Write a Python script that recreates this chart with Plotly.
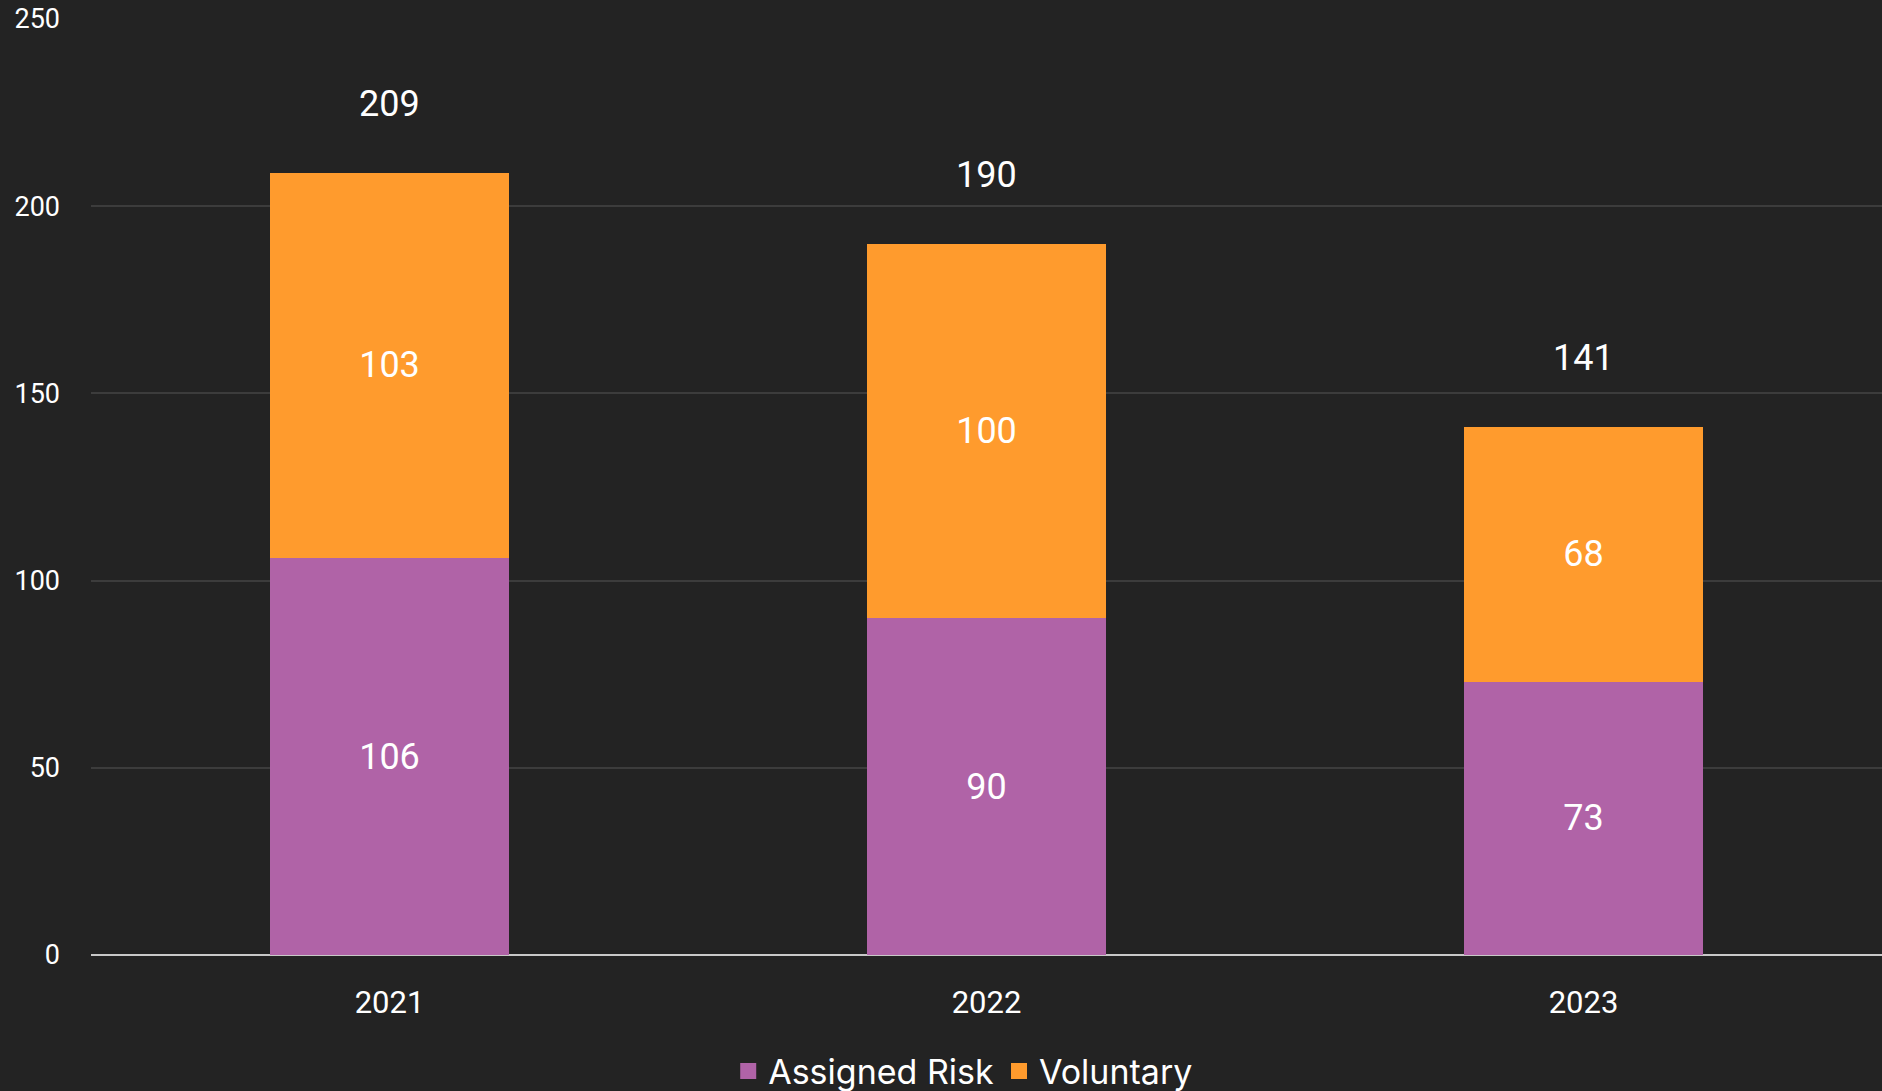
import plotly.graph_objects as go

years = ["2021", "2022", "2023"]
assigned_risk = [106, 90, 73]
voluntary = [103, 100, 68]
totals = [209, 190, 141]
y_ticks = [0, 50, 100, 150, 200, 250]

BG = "#232323"
PURPLE = "#b063a7"
ORANGE = "#ff9b2d"

fig = go.Figure()
fig.add_trace(go.Bar(
    x=years, y=assigned_risk, name="Assigned Risk", showlegend=False,
    marker=dict(color=PURPLE, line=dict(width=0)),
    text=[str(v) for v in assigned_risk], textposition="inside",
    insidetextanchor="middle",
    textfont=dict(color="white", size=36, family="Roboto"),
))
fig.add_trace(go.Bar(
    x=years, y=voluntary, name="Voluntary", showlegend=False,
    marker=dict(color=ORANGE, line=dict(width=0)),
    text=[str(v) for v in voluntary], textposition="inside",
    insidetextanchor="middle",
    textfont=dict(color="white", size=36, family="Roboto"),
))
# legend entries with larger square symbols
for name, col in [("Assigned Risk", PURPLE), ("Voluntary", ORANGE)]:
    fig.add_trace(go.Scatter(x=[years[0]], y=[None], mode="markers", name=name,
                             marker=dict(symbol="square", size=22, color=col)))

# total labels above stacks (category index used as x position)
for i, t in enumerate(totals):
    fig.add_annotation(x=i, y=t, text=str(t), showarrow=False,
                       yanchor="bottom", yshift=46,
                       font=dict(color="white", size=36, family="Roboto"))

fig.update_layout(
    barmode="stack",
    bargap=0.6,
    width=1882, height=1091,
    paper_bgcolor=BG, plot_bgcolor=BG,
    margin=dict(l=91, r=0, t=19, b=136, autoexpand=False),
    showlegend=True,
    legend=dict(orientation="h", x=0.487, xanchor="center",
                yref="container", y=0.018, yanchor="middle",
                font=dict(color="white", size=34, family="Inter"),
                traceorder="normal", itemwidth=30),
    xaxis=dict(type="category", showgrid=False, showline=False, ticks="",
               tickfont=dict(color="white", size=31, family="Roboto"),
               ticklabelstandoff=26),
    yaxis=dict(range=[0, 250], tickvals=y_ticks, showgrid=True, gridcolor="#3c3c3c",
               gridwidth=2, zeroline=True, zerolinecolor="#c8c8c8", zerolinewidth=2,
               showline=False, ticks="",
               tickfont=dict(color="white", size=27, family="Roboto"),
               ticklabelstandoff=30),
)

fig.write_html("out.html", config={"displayModeBar": False},
               post_script="document.body.style.margin='0';")
